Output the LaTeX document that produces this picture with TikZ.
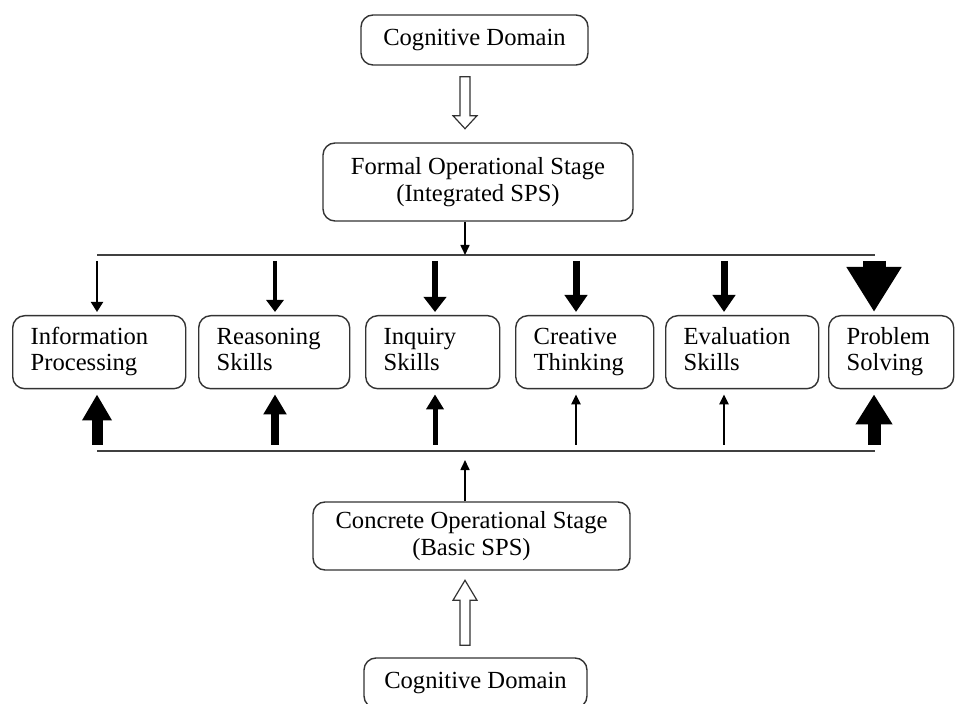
\documentclass[tikz,border=0pt]{standalone}
\usepackage{fontspec}
\setmainfont{Liberation Serif}
\usetikzlibrary{arrows.meta,calc}

\begin{document}
\begin{tikzpicture}[x=0.5pt,y=-0.5pt]
\tikzstyle{stage}=[rectangle, draw=black!80, line width=0.7pt, rounded corners=6pt, align=center, font=\fontsize{12.3}{13.5}\selectfont]
\tikzstyle{skill}=[rectangle, draw=black!80, line width=0.7pt, rounded corners=6pt, anchor=north west, align=left, inner xsep=9pt, minimum height=36.5pt, font=\fontsize{12.3}{13}\selectfont, execute at begin node=\strut, execute at end node=\strut]
\tikzstyle{hollow}=[draw=black!80, line width=0.6pt, fill=white, line join=miter]
\tikzstyle{bar}=[draw=black!75, line width=1pt]

\clip (0,0) rectangle (956,704);

\node[stage, minimum width=113.5pt, minimum height=25pt] (cogtop) at (474.5,40) {Cognitive Domain};
\node[stage, minimum width=155pt, minimum height=39pt] (formal) at (478,182) {Formal Operational Stage\\(Integrated SPS)};
\node[stage, minimum width=158.5pt, minimum height=34pt] (concrete) at (471.5,536) {Concrete Operational Stage\\(Basic SPS)};
\node[stage, minimum width=111.5pt, minimum height=25pt] (cogbot) at (475.5,683) {Cognitive Domain};

\node[skill, text width=68.5pt] (info) at (12,315) {Information\\Processing};
\node[skill, text width=57.5pt] (reason) at (198,315) {Reasoning\\Skills};
\node[skill, text width=49pt] (inquiry) at (365,315) {Inquiry\\Skills};
\node[skill, text width=51pt] (creative) at (515,315) {Creative\\Thinking};
\node[skill, text width=58.5pt] (eval) at (665,315) {Evaluation\\Skills};
\node[skill, text width=44.5pt] (problem) at (828,315) {Problem\\Solving};

\coordinate (mid) at (465,0);
\coordinate (topL) at (97,255);
\coordinate (topR) at (875,255);
\coordinate (botL) at (97,451);
\coordinate (botR) at (875,451);
\draw[bar] (topL) -- (topR);
\draw[bar] (botL) -- (botR);

% block arrows from the cognitive domain
\draw[hollow] ($(cogtop.south -| mid)+(-5,11)$) -- ++(10,0) -- ++(0,39) -- ++(7,0) -- ++(-12,13) -- ++(-12,-13) -- ++(7,0) -- cycle;
\draw[hollow] ($(cogbot.north -| mid)+(-5,-12)$) -- ++(10,0) -- ++(0,-45) -- ++(7,0) -- ++(-12,-20) -- ++(-12,20) -- ++(7,0) -- cycle;

\draw[line width=0.8pt, -{Triangle[width=4.5pt,length=5pt]}] (formal.south -| mid) -- (topL -| mid);
\draw[line width=0.8pt, -{Triangle[width=4.5pt,length=5pt]}] (concrete.north -| mid) -- ($(botL -| mid)+(0,9)$);

\coordinate (d1) at (97,261);
\coordinate (d2) at (275,261);
\coordinate (d3) at (435,261);
\coordinate (d4) at (576,261);
\coordinate (d5) at (724,261);
\coordinate (d6) at (874,261);
\draw[line width=1pt, -{Triangle[width=6pt,length=5pt]}] (d1) -- ($(d1 |- info.north)+(0,-3)$);
\draw[line width=1.6pt, -{Triangle[width=8.5pt,length=6pt]}] (d2) -- ($(d2 |- reason.north)+(0,-3)$);
\draw[line width=3pt, -{Triangle[width=11pt,length=7.5pt]}] (d3) -- ($(d3 |- inquiry.north)+(0,-3)$);
\draw[line width=3.5pt, -{Triangle[width=11pt,length=8.5pt]}] (d4) -- ($(d4 |- creative.north)+(0,-3)$);
\draw[line width=3.5pt, -{Triangle[width=11pt,length=8.5pt]}] (d5) -- ($(d5 |- eval.north)+(0,-3)$);
\draw[line width=11.5pt, -{Triangle[width=26pt,length=22.5pt]}] (d6) -- ($(d6 |- problem.north)+(0,-3)$);

\coordinate (u1) at (97,445);
\coordinate (u2) at (275,445);
\coordinate (u3) at (435,445);
\coordinate (u4) at (576,445);
\coordinate (u5) at (724,445);
\coordinate (u6) at (874,445);
\draw[line width=5.5pt, -{Triangle[width=14pt,length=13pt]}] (u1) -- ($(u1 |- info.south)+(0,5)$);
\draw[line width=4pt, -{Triangle[width=11pt,length=10pt]}] (u2) -- ($(u2 |- reason.south)+(0,5)$);
\draw[line width=2.5pt, -{Triangle[width=8.5pt,length=7.5pt]}] (u3) -- ($(u3 |- inquiry.south)+(0,5)$);
\draw[line width=1.4pt, -{Triangle[width=4.5pt,length=5pt]}] (u4) -- ($(u4 |- creative.south)+(0,5)$);
\draw[line width=1.4pt, -{Triangle[width=4.5pt,length=5pt]}] (u5) -- ($(u5 |- eval.south)+(0,5)$);
\draw[line width=6.5pt, -{Triangle[width=17.5pt,length=15pt]}] (u6) -- ($(u6 |- problem.south)+(0,5)$);
\end{tikzpicture}
\end{document}
